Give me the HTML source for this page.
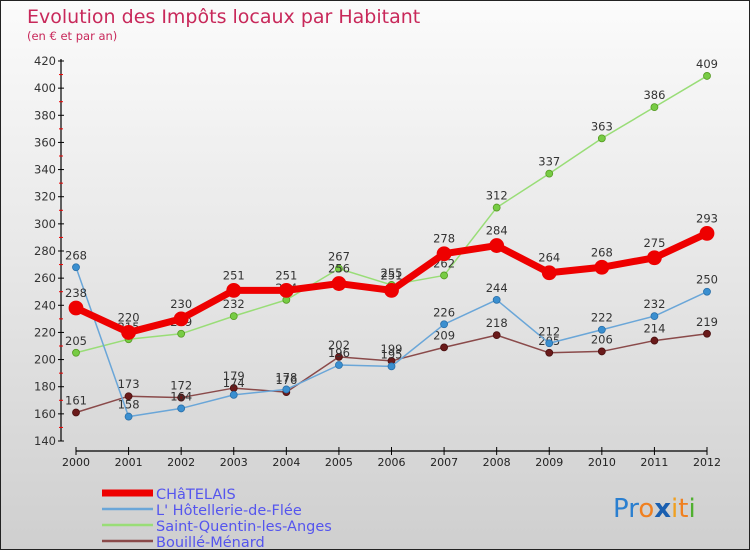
<!DOCTYPE html>
<html><head><meta charset="utf-8"><style>
body{margin:0;}
#wrap{width:748px;height:548px;border:1px solid #222;background:linear-gradient(#fbfbfb,#e6e6e6 50%,#cfcfcf);position:relative;font-family:"DejaVu Sans","Liberation Sans",sans-serif;overflow:hidden}
svg text{font-family:"DejaVu Sans","Liberation Sans",sans-serif}
</style></head><body>
<div id="wrap">
<svg id="s" width="748" height="548">
<text x="26" y="22" font-size="19" fill="#c8285a">Evolution des Impôts locaux par Habitant</text>
<text x="26" y="39" font-size="11.5" fill="#c8285a">(en € et par an)</text>
<text x="612" y="516" font-size="26"><tspan fill="#2a7fd0">Pr</tspan><tspan fill="#f08020">o</tspan><tspan fill="#1a5fb0" font-weight="bold">x</tspan><tspan fill="#f0a020">i</tspan><tspan fill="#f08020">t</tspan><tspan fill="#50b030">i</tspan></text>
</svg>
</div>
<script>
const years=["2000","2001","2002","2003","2004","2005","2006","2007","2008","2009","2010","2011","2012"];
const yTicks=[140,160,180,200,220,240,260,280,300,320,340,360,380,400,420];
const chatelais=[238,220,230,251,251,256,251,278,284,264,268,275,293];
const hotellerie=[268,158,164,174,178,196,195,226,244,212,222,232,250];
const saintQuentin=[205,215,219,232,244,267,255,262,312,337,363,386,409];
const bouille=[161,173,172,179,176,202,199,209,218,205,206,214,219];
const series=[
 {name:"CHâTELAIS",id:"chatelais",data:chatelais,color:"#ee0000",w:7,r:7,dot:"#ee0000",stroke:"#ee0000"},
 {name:"L' Hôtellerie-de-Flée",id:"hotellerie",data:hotellerie,color:"#6aa6d8",w:1.5,r:3.5,dot:"#3a8fd0",stroke:"#2a6fa8"},
 {name:"Saint-Quentin-les-Anges",id:"saint-quentin",data:saintQuentin,color:"#99dd77",w:1.5,r:3.5,dot:"#77cc44",stroke:"#559922"},
 {name:"Bouillé-Ménard",id:"bouille",data:bouille,color:"#8a4a4a",w:1.5,r:3.5,dot:"#6a1a1a",stroke:"#4a1010"}
];
const NS="http://www.w3.org/2000/svg",svg=document.getElementById('s');
const X=i=>75+i*(706-75)/(years.length-1);
const Y=v=>440-(v-140)*380/280;
function el(t,a,p){const e=document.createElementNS(NS,t);for(const k in a)e.setAttribute(k,a[k]);(p||svg).appendChild(e);return e;}
// axes
let ax=el('line',{x1:60,y1:58,x2:60,y2:440,stroke:'#000','stroke-width':1.2});


let xa=el('line',{x1:75,y1:450,x2:706,y2:450,stroke:'#000','stroke-width':1.2});


yTicks.forEach((v,i)=>{
 el('line',{x1:57,y1:Y(v),x2:63,y2:Y(v),stroke:'#000'});
 if(i<yTicks.length-1) el('line',{x1:58,y1:Y(v+10),x2:62,y2:Y(v+10),stroke:'#e00'});
 const t=el('text',{x:55,y:Y(v)+4,'text-anchor':'end','font-size':11.5,fill:'#333'});
 t.textContent=v;
 
 
});
years.forEach((y,i)=>{
 el('line',{x1:X(i),y1:446,x2:X(i),y2:454,stroke:'#000'});
 const t=el('text',{x:X(i),y:465,'text-anchor':'middle','font-size':11,fill:'#222'});
 t.textContent=y;
 
 
});
// series drawn bottom to top
[3,2,1,0].forEach(si=>{
 const s=series[si];
 const g=el('g',{});
 
 
 const pl=el('polyline',{points:s.data.map((v,i)=>X(i)+','+Y(v)).join(' '),fill:'none',stroke:s.color,'stroke-width':s.w,'stroke-linejoin':'round'},g);
 
 
 s.data.forEach((v,i)=>{
  const c=el('circle',{cx:X(i),cy:Y(v),r:s.r,fill:s.dot,stroke:s.stroke,'stroke-width':0.8},g);
  
  
  const t=el('text',{x:X(i),y:Y(v)-(si==0?11:8),'text-anchor':'middle','font-size':11.5,fill:'#333'},g);
  t.textContent=v;
  
  
 });
});
// legend
series.forEach((s,i)=>{
 const y=492+i*16;
 const l=el('line',{x1:101,y1:y,x2:152,y2:y,stroke:s.color,'stroke-width':si2(i)});
 
 
 const t=el('text',{x:155,y:y+6,'font-size':14.5,fill:'#5555ee'});
 t.textContent=s.name;
 
 
});
function si2(i){return i==0?7:2.5;}
</script>
</body></html>
